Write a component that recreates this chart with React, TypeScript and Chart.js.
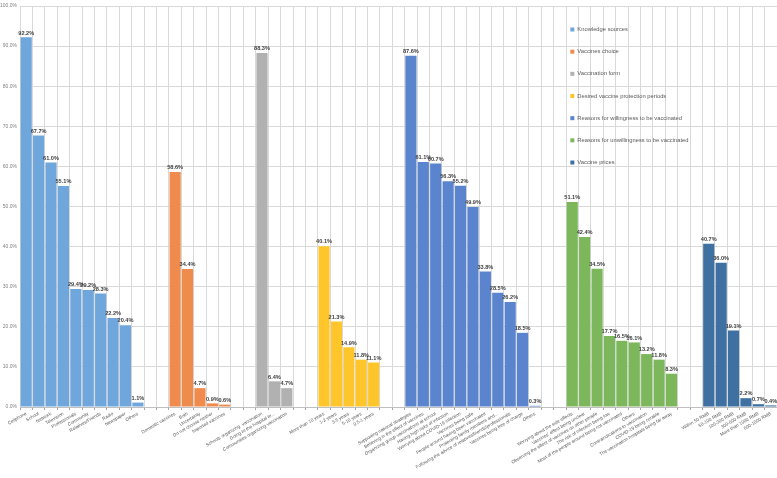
import React, { useEffect, useRef } from 'react';
import { Chart, registerables } from 'chart.js';
Chart.register(...registerables);

const seriesNames = [
  'Knowledge sources',
  'Vaccines choice',
  'Vaccination form',
  'Desired vaccine protection periods',
  'Reasons for willingness to be vaccinated',
  'Reasons for unwillingness to be vaccinated',
  'Vaccine prices',
];
const seriesColors = ['#6fa7dc', '#ef8b4d', '#b1b1b1', '#fec62a', '#5a84cd', '#7db75b', '#3e70a2'];

const knowledgeLabels = ['Cellphone', 'School', 'Network', 'Television', 'Professionals', 'Community', 'Relatives/Friends', 'Radio', 'Newspaper', 'Others'];
const knowledgeValues = [92.2, 67.7, 61.0, 55.1, 29.4, 29.2, 28.3, 22.2, 20.4, 1.1];

const choiceLabels = ['Domestic vaccines', 'Both', 'Uncertainty', 'Do not choose neither', 'Imported vaccines'];
const choiceValues = [58.6, 34.4, 4.7, 0.9, 0.6];

const formLabels = ['Schools organizing  vaccination', 'Going to the hospital to...', 'Communities organizing vaccination'];
const formValues = [88.3, 6.4, 4.7];

const periodLabels = ['More than 10 years', '1-2 years', '3-5 years', '5-10 years', '0.5-1 years'];
const periodValues = [40.1, 21.3, 14.9, 11.8, 11.1];

const willingLabels = [
  'Supporting national strategies',
  'Believing in the effect of vaccines',
  'Organizing group vaccinations at school',
  'Having high risks of infection',
  'Worrying about COVID-19 infection',
  'Vaccines being safe',
  'People around having been vaccinated',
  'Protecting family members and...',
  'Following the advice of relatives/friends/professionals',
  'Vaccines being free of charge',
  'Others',
];
const willingValues = [87.6, 61.1, 60.7, 56.3, 55.2, 49.9, 33.8, 28.5, 26.2, 18.5, 0.3];

const unwillingLabels = [
  'Worrying about the side effects',
  "Vaccines' effect being unclear",
  'Observing the effect of vaccines on other people',
  'The risk of infection being low',
  'Most of the people around being not vaccinated',
  'Others',
  'Contraindications to vaccination',
  'COVID-19 being curable',
  'The vaccination hospitals being far away',
];
const unwillingValues = [51.1, 42.4, 34.5, 17.7, 16.5, 16.1, 13.2, 11.8, 8.3];

const priceLabels = ['Within 50 RMB', '50-100 RMB', '100-300 RMB', '300-600 RMB', 'More than 1000 RMB', '600-1000 RMB'];
const priceValues = [40.7, 36.0, 19.1, 2.2, 0.7, 0.4];

const yTicks = [0, 10, 20, 30, 40, 50, 60, 70, 80, 90, 100];
const gapSlots = 2;

const FONT = '"Liberation Sans", Arial, sans-serif';

function buildData() {
  const groups = [
    { labels: knowledgeLabels, values: knowledgeValues },
    { labels: choiceLabels, values: choiceValues },
    { labels: formLabels, values: formValues },
    { labels: periodLabels, values: periodValues },
    { labels: willingLabels, values: willingValues },
    { labels: unwillingLabels, values: unwillingValues },
    { labels: priceLabels, values: priceValues },
  ];
  const labels: string[] = [];
  const starts: number[] = [];
  groups.forEach((g, gi) => {
    if (gi > 0) for (let k = 0; k < gapSlots; k++) labels.push('');
    starts.push(labels.length);
    labels.push(...g.labels);
  });
  const datasets = groups.map((g, gi) => {
    const data: (number | null)[] = labels.map(() => null);
    g.values.forEach((v, j) => {
      data[starts[gi] + j] = v;
    });
    return {
      label: seriesNames[gi],
      data,
      backgroundColor: seriesColors[gi],
      borderWidth: 0,
      grouped: false,
      barPercentage: 1,
      categoryPercentage: 0.9,
    };
  });
  return { labels, datasets };
}

const valueLabelPlugin = {
  id: 'valueLabels',
  afterDatasetsDraw(chart: any) {
    const ctx = chart.ctx;
    ctx.save();
    ctx.font = `bold 5.6px ${FONT}`;
    ctx.fillStyle = '#404040';
    ctx.textAlign = 'center';
    ctx.textBaseline = 'bottom';
    chart.data.datasets.forEach((ds: any, i: number) => {
      const meta = chart.getDatasetMeta(i);
      meta.data.forEach((el: any, j: number) => {
        const v = ds.data[j];
        if (v == null) return;
        ctx.fillText(v.toFixed(1) + '%', el.x, el.y - 1.5);
      });
    });
    ctx.restore();
  },
};

const legendPlugin = {
  id: 'sideLegend',
  afterDraw(chart: any) {
    const ctx = chart.ctx;
    const area = chart.chartArea;
    const x = area.left + (area.right - area.left) * 0.727;
    const y0 = area.top + 23.5;
    const step = 22.17;
    ctx.save();
    ctx.font = `5.8px ${FONT}`;
    ctx.textAlign = 'left';
    ctx.textBaseline = 'middle';
    chart.data.datasets.forEach((ds: any, i: number) => {
      const y = y0 + i * step;
      ctx.fillStyle = ds.backgroundColor;
      ctx.fillRect(x, y - 2, 4, 4);
      ctx.fillStyle = '#595959';
      ctx.fillText(ds.label, x + 7, y);
    });
    ctx.restore();
  },
};

export default function App() {
  const ref = useRef<HTMLCanvasElement | null>(null);
  useEffect(() => {
    if (!ref.current) return;
    const { labels, datasets } = buildData();
    const chart = new Chart(ref.current, {
      type: 'bar',
      data: { labels, datasets: datasets as any },
      plugins: [valueLabelPlugin, legendPlugin],
      options: {
        animation: false,
        responsive: true,
        maintainAspectRatio: false,
        layout: { padding: { top: 4, left: 0, right: 0, bottom: 0 } },
        plugins: { legend: { display: false }, tooltip: { enabled: false } },
        scales: {
          x: {
            grid: { offset: true, color: '#d9d9d9', lineWidth: 1, tickLength: 3, tickColor: '#a6a6a6' },
            border: { color: '#bfbfbf' },
            ticks: {
              autoSkip: false,
              maxRotation: 30,
              minRotation: 30,
              padding: 1,
              color: '#595959',
              font: { size: 4.6, family: FONT },
            },
            afterFit: (scale: any) => {
              scale.height = 71;
            },
          },
          y: {
            min: 0,
            max: 100,
            afterBuildTicks: (scale: any) => {
              scale.ticks = yTicks.map((v) => ({ value: v }));
            },
            grid: { color: '#d9d9d9', drawTicks: false },
            border: { display: false },
            ticks: {
              padding: 3,
              color: '#7f7f7f',
              font: { size: 5, family: FONT },
              callback: (v: any) => Number(v).toFixed(1) + '%',
            },
            afterFit: (scale: any) => {
              scale.width = 20;
            },
          },
        },
      },
    });
    return () => chart.destroy();
  }, []);
  return (
    <div style={{ position: 'fixed', left: 0, top: 0, width: 777, height: 478, background: '#fff' }}>
      <canvas ref={ref} />
    </div>
  );
}
